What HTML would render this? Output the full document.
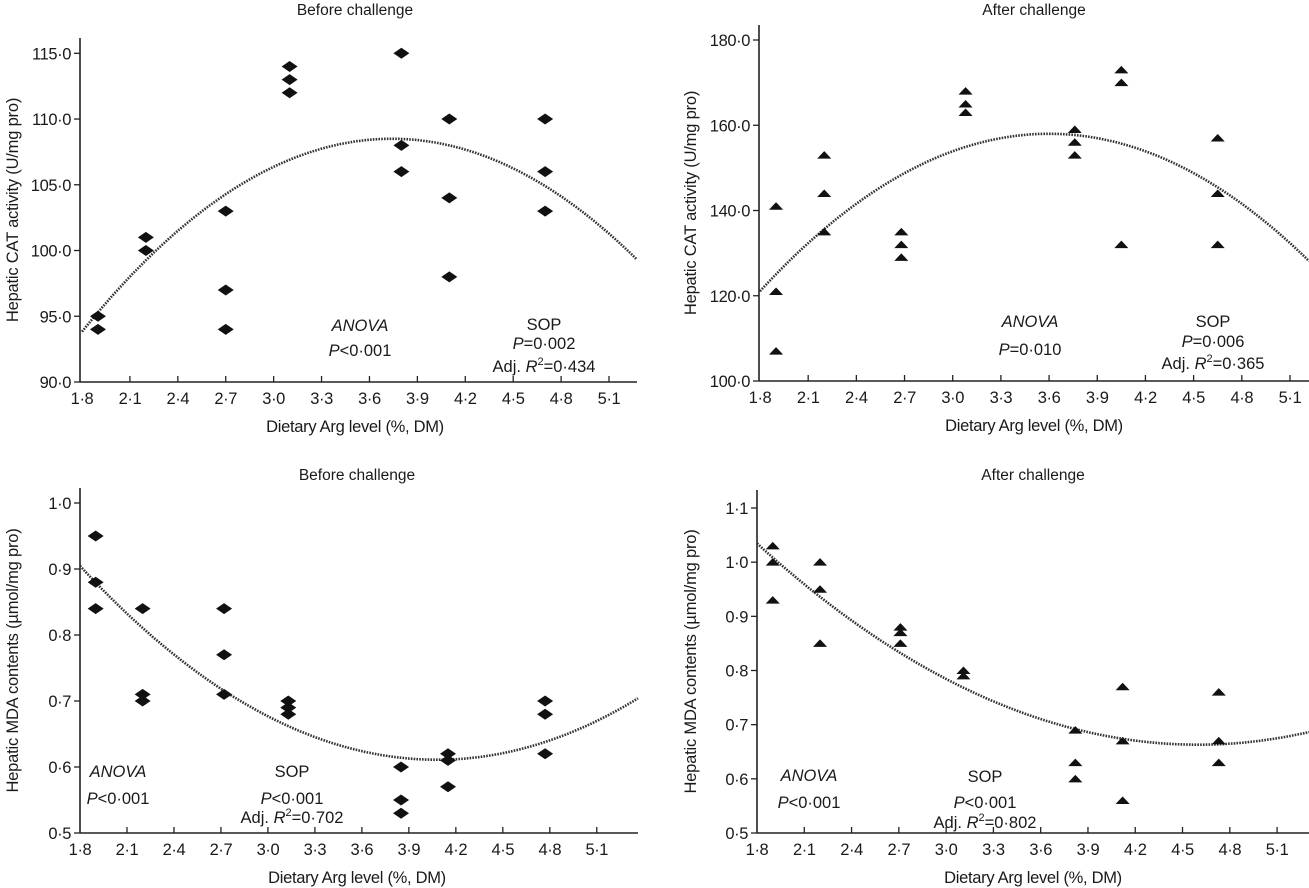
<!DOCTYPE html>
<html><head><meta charset="utf-8"><style>
html,body{margin:0;padding:0;background:#fff;}
svg{display:block;font-family:"Liberation Sans",Arial,sans-serif;}
text{fill:#1a1a1a;}
</style></head><body>
<svg id="fig" width="1309" height="888" viewBox="0 0 1309 888" xmlns="http://www.w3.org/2000/svg"></svg>
<script>
// ---- Panel A: CAT before challenge ----
const catBeforeX = [1.9,1.9,2.2,2.2,2.7,2.7,2.7,3.1,3.1,3.1,3.8,3.8,3.8,4.1,4.1,4.1,4.7,4.7,4.7];
const catBeforeY = [95,94,101,100,103,97,94,114,113,112,115,108,106,110,104,98,110,106,103];
const catBeforeFit = [108.5,3.74,3.9]; // peak, vertex x, curvature
const catBeforeTicks = [90,95,100,105,110,115];
// ---- Panel B: CAT after challenge ----
const catAfterX = [1.9,1.9,1.9,2.2,2.2,2.2,2.68,2.68,2.68,3.08,3.08,3.08,3.76,3.76,3.76,4.05,4.05,4.05,4.65,4.65,4.65];
const catAfterY = [141,121,107,153,144,135,135,132,129,168,165,163,159,156,153,173,170,132,157,144,132];
const catAfterFit = [158,3.6,11.4];
const catAfterTicks = [100,120,140,160,180];
// ---- Panel C: MDA before challenge ----
const mdaBeforeX = [1.9,1.9,1.9,2.2,2.2,2.2,2.72,2.72,2.72,3.13,3.13,3.13,3.85,3.85,3.85,4.15,4.15,4.15,4.77,4.77,4.77];
const mdaBeforeY = [0.95,0.88,0.84,0.84,0.71,0.70,0.84,0.77,0.71,0.70,0.69,0.68,0.60,0.55,0.53,0.62,0.61,0.57,0.70,0.68,0.62];
const mdaBeforeFit = [0.611,4.08,0.0565];
const mdaBeforeTicks = [0.5,0.6,0.7,0.8,0.9,1.0];
// ---- Panel D: MDA after challenge ----
const mdaAfterX = [1.9,1.9,1.9,2.2,2.2,2.2,2.71,2.71,2.71,3.11,3.11,3.82,3.82,3.82,4.12,4.12,4.12,4.73,4.73,4.73];
const mdaAfterY = [1.03,1.00,0.93,1.00,0.95,0.85,0.88,0.87,0.85,0.80,0.79,0.69,0.63,0.60,0.77,0.67,0.56,0.76,0.67,0.63];
const mdaAfterFit = [0.663,4.6,0.0474];
const mdaAfterTicks = [0.5,0.6,0.7,0.8,0.9,1.0,1.1];
const xTickLabels = ["1·8","2·1","2·4","2·7","3·0","3·3","3·6","3·9","4·2","4·5","4·8","5·1"];

const NS="http://www.w3.org/2000/svg";
const svg=document.getElementById('fig');
function mk(tag,attrs,parent,txt){const e=document.createElementNS(NS,tag);for(const k in attrs)e.setAttribute(k,attrs[k]);if(txt!==undefined)e.textContent=txt;(parent||svg).appendChild(e);return e;}

function panel(cfg){
  const g=mk('g',{});
  
  
  const sx=v=>cfg.x0+(v-1.8)*cfg.pxu;
  const sy=v=>cfg.yb-(v-cfg.ymin)*(cfg.yb-cfg.yt)/(cfg.ymax-cfg.ymin);
  const ya=mk('line',{x1:cfg.ax,y1:cfg.atop,x2:cfg.ax,y2:cfg.yb,stroke:'#222','stroke-width':1.6},g);
  
  
  const xa=mk('line',{x1:cfg.ax,y1:cfg.yb,x2:cfg.xend,y2:cfg.yb,stroke:'#222','stroke-width':1.6},g);
  
  
  cfg.yticks.forEach(v=>{
    const y=sy(v);
    mk('line',{x1:cfg.ax-6,y1:y,x2:cfg.ax,y2:y,stroke:'#222','stroke-width':1.3},g);
    const t=mk('text',{x:cfg.ax-9,y:y+6,'text-anchor':'end','font-size':16.5,'letter-spacing':-0.4},g,cfg.fmt(v));
    
    
  });
  xTickLabels.forEach((lab,i)=>{
    const v=1.8+0.3*i, x=sx(v);
    if(i>0) mk('line',{x1:x,y1:cfg.yb,x2:x,y2:cfg.yb-6,stroke:'#222','stroke-width':1.3},g);
    const t=mk('text',{x:x,y:cfg.yb+22,'text-anchor':'middle','font-size':16.5,'letter-spacing':-0.4},g,lab);
    
    
  });
  const [pk,vx,a]=cfg.fit; const xmaxV=1.8+(cfg.xend-cfg.x0)/cfg.pxu;
  let d='';
  for(let i=0;i<=200;i++){const v=1.8+(xmaxV-1.8)*i/200;const yv=cfg.sign>0?pk+a*(v-vx)*(v-vx):pk-a*(v-vx)*(v-vx);d+=(i?'L':'M')+sx(v).toFixed(1)+','+sy(yv).toFixed(1);}
  const c=mk('path',{d:d,fill:'none',stroke:'#333','stroke-width':2.6,'stroke-dasharray':'1.6 1.2'},g);
  
  
  cfg.xs.forEach((xv,i)=>{
    const x=sx(xv), y=sy(cfg.ys[i]);
    let p;
    if(cfg.marker==='diamond'){
      p=mk('polygon',{points:`${x-8},${y} ${x},${y-5.5} ${x+8},${y} ${x},${y+5.5}`,fill:'#111'},g);
    } else {
      p=mk('path',{d:`M${x-7},${y+3.5} Q${x-3},${y-1} ${x},${y-4} Q${x+3},${y-1} ${x+7},${y+3.5} Z`,fill:'#111'},g);
    }
    
    
  });
  const tt=mk('text',{x:cfg.tx,y:cfg.ty,'text-anchor':'middle','font-size':15.5},g,cfg.title);
  
  
  const xt=mk('text',{x:cfg.tx,y:cfg.yb+50,'text-anchor':'middle','font-size':16.5,'letter-spacing':-0.3},g,'Dietary Arg level (%, DM)');
  
  
  const yl=mk('text',{x:0,y:0,'text-anchor':'middle','font-size':16.5,'letter-spacing':-0.2,transform:`translate(${cfg.ylx},${(cfg.atop+cfg.yb)/2}) rotate(-90)`},g,cfg.ylabel);
  
  
  const an=mk('text',{x:cfg.an[0],y:cfg.an[1],'text-anchor':'middle','font-size':16.5,'font-style':'italic'},g,'ANOVA');
  
  
  const ap=mk('text',{x:cfg.an[0],y:cfg.an[2],'text-anchor':'middle','font-size':16.5},g);
  
  
  mk('tspan',{'font-style':'italic'},ap,'P'); mk('tspan',{},ap,cfg.anp);
  const s1=mk('text',{x:cfg.sop[0],y:cfg.sop[1],'text-anchor':'middle','font-size':16.5},g,'SOP');
  
  
  const s2=mk('text',{x:cfg.sop[0],y:cfg.sop[2],'text-anchor':'middle','font-size':16.5},g);
  
  
  mk('tspan',{'font-style':'italic'},s2,'P'); mk('tspan',{},s2,cfg.sopp);
  const s3=mk('text',{x:cfg.sop[0],y:cfg.sop[3],'text-anchor':'middle','font-size':16.5},g);
  
  
  mk('tspan',{},s3,'Adj. '); mk('tspan',{'font-style':'italic'},s3,'R');
  mk('tspan',{'font-size':11,dy:-7},s3,'2'); mk('tspan',{dy:7},s3,'='+cfg.r2);
}
const f1=v=>v.toFixed(1).replace('.','·');
panel({name:'panel-cat-before',x0:82,pxu:159.7,ax:80,xend:637,yb:382,yt:53.3,ymin:90,ymax:115,atop:38,
  yticks:catBeforeTicks,fmt:f1,xs:catBeforeX,ys:catBeforeY,fit:catBeforeFit,sign:-1,marker:'diamond',
  title:'Before challenge',tx:355,ty:15,ylx:18,ylabel:'Hepatic CAT activity (U/mg pro)',
  an:[360,331,356],anp:'<0·001',sop:[544,330,349,372],sopp:'=0·002',r2:'0·434'});
panel({name:'panel-cat-after',x0:760,pxu:160.6,ax:759,xend:1309,yb:381,yt:40,ymin:100,ymax:180,atop:25,
  yticks:catAfterTicks,fmt:f1,xs:catAfterX,ys:catAfterY,fit:catAfterFit,sign:-1,marker:'tri',
  title:'After challenge',tx:1034,ty:15,ylx:696,ylabel:'Hepatic CAT activity (U/mg pro)',
  an:[1030,327,355],anp:'=0·010',sop:[1213,327,347,369],sopp:'=0·006',r2:'0·365'});
panel({name:'panel-mda-before',x0:80,pxu:156.6,ax:80,xend:638,yb:833,yt:503,ymin:0.5,ymax:1.0,atop:488,
  yticks:mdaBeforeTicks,fmt:f1,xs:mdaBeforeX,ys:mdaBeforeY,fit:mdaBeforeFit,sign:1,marker:'diamond',
  title:'Before challenge',tx:357,ty:480,ylx:18,ylabel:'Hepatic MDA contents (µmol/mg pro)',
  an:[118,777,804],anp:'<0·001',sop:[292,777,804,823],sopp:'<0·001',r2:'0·702'});
panel({name:'panel-mda-after',x0:757,pxu:157.6,ax:757,xend:1309,yb:833,yt:508,ymin:0.5,ymax:1.1,atop:490,
  yticks:mdaAfterTicks,fmt:f1,xs:mdaAfterX,ys:mdaAfterY,fit:mdaAfterFit,sign:1,marker:'tri',
  title:'After challenge',tx:1033,ty:480,ylx:696,ylabel:'Hepatic MDA contents (µmol/mg pro)',
  an:[809,781,808],anp:'<0·001',sop:[985,782,808,828],sopp:'<0·001',r2:'0·802'});
</script>
</body></html>
